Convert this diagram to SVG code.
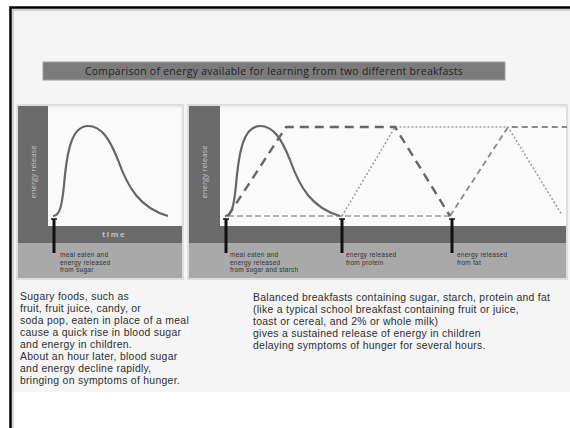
<svg xmlns="http://www.w3.org/2000/svg" width="570" height="428" viewBox="0 0 570 428">
<style>
.dark{fill:#6b6b6b}
.light{fill:#a9a9a9}
.plot{fill:#fafafa}
.frame{fill:#f2f2f2;stroke:#c8c8c8;stroke-width:1}
.axis{font-family:"Open Sans","Liberation Sans",sans-serif;font-size:7.8px;fill:#c4c4c4;text-anchor:middle}
.lab{font-family:"Liberation Sans",Arial,sans-serif;font-size:6.5px;letter-spacing:0.25px;fill:#333}
.body{font-family:"Liberation Sans",Arial,sans-serif;font-size:10.4px;letter-spacing:0.3px;fill:#2e2e2e}
.mark{stroke:#111;stroke-width:3;fill:none}
.cap{stroke:#111;stroke-width:1.5}
.curve{fill:none;stroke:#666;stroke-width:2.2}
</style>
<rect x="0" y="0" width="570" height="428" fill="#ffffff"/>
<rect x="12" y="9" width="558" height="383" fill="#f5f5f5"/>
<path d="M10.5,428 V7.5 H570" fill="none" stroke="#000" stroke-width="2.5"/>
<path d="M13,428 V10 H570" fill="none" stroke="#999" stroke-width="0.8"/>

<g id="title">
<rect x="43" y="62" width="462" height="18" fill="#7b7b7b" stroke="#a0a0a0" stroke-width="1"/>
<text x="274" y="75" text-anchor="middle" font-family="Open Sans, Liberation Sans, sans-serif" font-size="10.4" letter-spacing="0.3" fill="#222">Comparison of energy available for learning from two different breakfasts</text>
</g>

<g id="panel-sugar">
<rect class="frame" x="17" y="105" width="166" height="174"/>
<rect class="dark" x="18" y="106" width="30" height="137"/>
<rect class="plot" x="48" y="108" width="133" height="118"/>
<rect class="dark" x="18" y="226" width="164" height="17"/>
<rect class="light" x="18" y="243" width="164" height="35"/>
<text class="axis" transform="translate(35.5,172) rotate(-90)">energy release</text>
<text class="axis" x="114" y="237" letter-spacing="1.5" font-weight="bold">time</text>
<path class="curve" d="M53,216 C60,216 62,205 64,185 C67,150 72,126 88,126 C102,126 110,140 118,160 C128,188 140,208 168,216"/>
<line class="mark" x1="54" y1="219" x2="54" y2="253"/>
<line class="cap" x1="51" y1="219" x2="57" y2="219"/>
<text class="lab" x="60" y="257">meal eaten and</text>
<text class="lab" x="60" y="264.5">energy released</text>
<text class="lab" x="60" y="272">from sugar</text>
</g>

<g id="panel-balanced">
<rect class="frame" x="188" y="105" width="379" height="174"/>
<rect class="dark" x="189" y="106" width="31" height="137"/>
<rect class="plot" x="220" y="108" width="346" height="118"/>
<rect class="dark" x="189" y="226" width="377" height="17"/>
<rect class="light" x="189" y="243" width="377" height="35"/>
<text class="axis" transform="translate(207,172) rotate(-90)">energy release</text>
</g>

<g id="connectors">
<polyline fill="none" stroke="#9a9a9a" stroke-width="1.3" stroke-dasharray="6,3" points="228,216 450,216"/>
<polyline fill="none" stroke="#8a8a8a" stroke-width="1.8" stroke-dasharray="6,4" points="450,216 508,127 567,127"/>
<polyline fill="none" stroke="#a0a0a0" stroke-width="1.6" stroke-dasharray="2,2" points="342,216 395,127 508,127 562,215"/>
<polyline fill="none" stroke="#666" stroke-width="2.4" stroke-dasharray="9,6" points="228,216 286,127 395,127 450,216"/>
<path class="curve" d="M225,216 C232,216 234,205 236,185 C239,150 244,126 260,126 C274,126 282,140 290,160 C300,188 312,208 340,216"/>
</g>

<g id="markers">
<line class="mark" x1="226" y1="219" x2="226" y2="253"/>
<line class="cap" x1="223" y1="219" x2="229" y2="219"/>
<line class="mark" x1="342" y1="219" x2="342" y2="253"/>
<line class="cap" x1="339" y1="219" x2="345" y2="219"/>
<line class="mark" x1="452" y1="219" x2="452" y2="253"/>
<line class="cap" x1="449" y1="219" x2="455" y2="219"/>
</g>

<g id="labels">
<text class="lab" x="230" y="257">meal eaten and</text>
<text class="lab" x="230" y="264.5">energy released</text>
<text class="lab" x="230" y="272">from sugar and starch</text>
<text class="lab" x="346" y="257">energy released</text>
<text class="lab" x="346" y="264.5">from protein</text>
<text class="lab" x="457" y="257">energy released</text>
<text class="lab" x="457" y="264.5">from fat</text>
</g>

<g id="text-sugar">
<text class="body" x="20" y="300">Sugary foods, such as</text>
<text class="body" x="20" y="312">fruit, fruit juice, candy, or</text>
<text class="body" x="20" y="324">soda pop, eaten in place of a meal</text>
<text class="body" x="20" y="336">cause a quick rise in blood sugar</text>
<text class="body" x="20" y="348">and energy in children.</text>
<text class="body" x="20" y="360">About an hour later, blood sugar</text>
<text class="body" x="20" y="372">and energy decline rapidly,</text>
<text class="body" x="20" y="384">bringing on symptoms of hunger.</text>
</g>

<g id="text-balanced">
<text class="body" x="253" y="301">Balanced breakfasts containing sugar, starch, protein and fat</text>
<text class="body" x="253" y="313">(like a typical school breakfast containing fruit or juice,</text>
<text class="body" x="253" y="325">toast or cereal, and 2% or whole milk)</text>
<text class="body" x="253" y="337">gives a sustained release of energy in children</text>
<text class="body" x="253" y="349">delaying symptoms of hunger for several hours.</text>
</g>
</svg>
